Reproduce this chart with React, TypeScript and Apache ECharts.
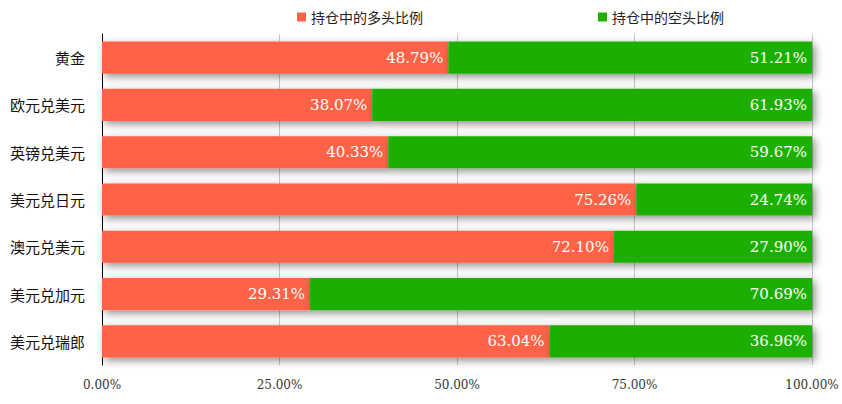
import React, { useEffect, useRef } from "react";
import * as echarts from "echarts";

const categories = ["黄金", "欧元兑美元", "英镑兑美元", "美元兑日元", "澳元兑美元", "美元兑加元", "美元兑瑞郎"];
const longRatio = [48.79, 38.07, 40.33, 75.26, 72.1, 29.31, 63.04];
const shortRatio = [51.21, 61.93, 59.67, 24.74, 27.9, 70.69, 36.96];
const seriesNames = ["持仓中的多头比例", "持仓中的空头比例"];

export default function App() {
  const ref = useRef<HTMLDivElement>(null);
  useEffect(() => {
    const chart = echarts.init(ref.current!, null, { renderer: "svg" });
    const label = {
      show: true,
      position: "insideRight",
      color: "#fff",
      fontFamily: "DejaVu Serif",
      fontSize: 15,
      formatter: (p: any) => Number(p.value).toFixed(2) + "%",
    };
    const shadow = {
      shadowBlur: 8,
      shadowOffsetX: 3,
      shadowOffsetY: 3,
      shadowColor: "rgba(0,0,0,0.45)",
    };
    chart.setOption({
      animation: false,
      legend: {
        top: 5,
        left: 292,
        itemWidth: 9,
        itemHeight: 9,
        itemGap: 175,
        icon: "rect",
        textStyle: { fontSize: 14, color: "#222", fontFamily: "Noto Sans CJK SC" },
        data: seriesNames,
      },
      grid: { left: 102, right: 30, top: 34, bottom: 39 },
      xAxis: {
        type: "value",
        min: 0,
        max: 100,
        interval: 25,
        axisLine: { show: false },
        axisTick: { show: false },
        splitLine: { show: true, lineStyle: { color: "#c8c8c8" } },
        axisLabel: {
          color: "#333",
          fontFamily: "DejaVu Serif",
          fontSize: 12,
          margin: 14,
          formatter: (v: number) => v.toFixed(2) + "%",
        },
      },
      yAxis: {
        type: "category",
        inverse: true,
        data: categories,
        axisLine: { show: true, lineStyle: { color: "#000", width: 1 } },
        axisTick: { show: false },
        axisLabel: { color: "#111", fontSize: 15, margin: 17, fontFamily: "Noto Sans CJK SC" },
      },
      series: [
        {
          name: seriesNames[0],
          type: "bar",
          stack: "total",
          barWidth: "68%",
          data: longRatio,
          itemStyle: { color: "#FF6347", ...shadow },
          label,
        },
        {
          name: seriesNames[1],
          type: "bar",
          stack: "total",
          barWidth: "68%",
          data: shortRatio,
          itemStyle: { color: "#1FAF00", ...shadow },
          label,
        },
      ],
    });
    return () => chart.dispose();
  }, []);
  return <div ref={ref} style={{ position: "absolute", left: 0, top: 0, width: 842, height: 404 }} />;
}
